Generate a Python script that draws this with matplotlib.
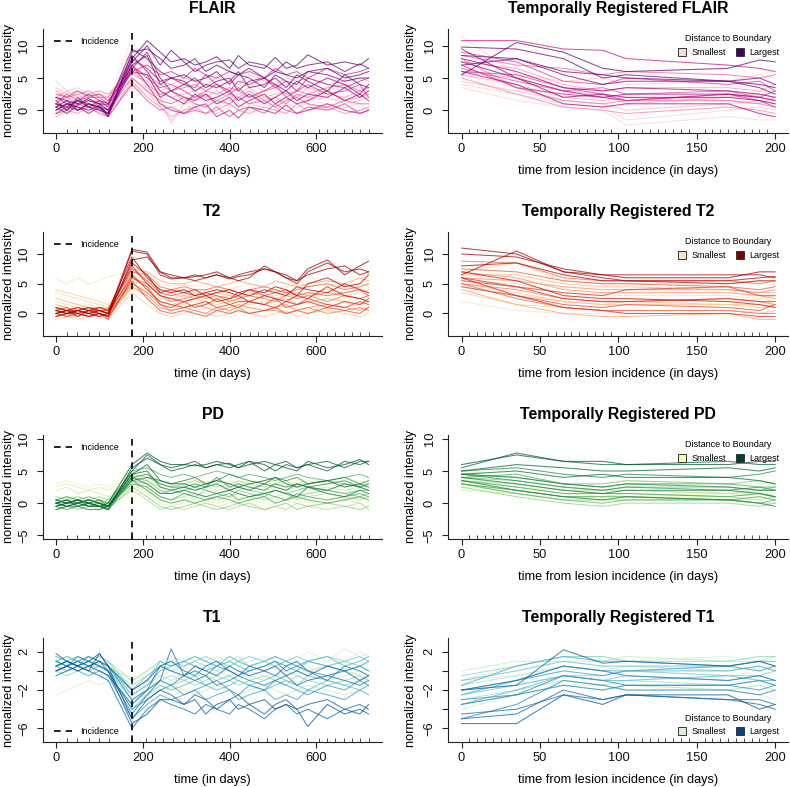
import numpy as np
import matplotlib
matplotlib.use('Agg')
import matplotlib.pyplot as plt
from matplotlib.lines import Line2D

plt.rcParams['font.family'] = ['Liberation Sans', 'DejaVu Sans']

# ---------------- data ----------------
DAYS = [0, 25, 50, 75, 100, 120, 175, 210, 240, 265, 295, 320, 345, 370, 400,
        420, 445, 480, 505, 530, 555, 580, 625, 665, 700, 720]
RUG_DAYS = [0, 25, 49, 75, 100, 122, 176, 207, 228, 247, 269, 295, 320, 346, 366,
            383, 401, 424, 446, 466, 486, 505, 532, 554, 578, 605, 624, 643, 663,
            682, 701, 720]
REG_DAYS = [0, 35, 65, 90, 105, 170, 190, 200]
REG_RUG = list(range(0, 201, 5))
INCIDENCE_DAY = 175

FLAIR_DIST = [1.0, 0.95, 0.9, 0.85, 0.8, 0.72, 0.65, 0.6, 0.52, 0.45, 0.38, 0.3, 0.22, 0.15, 0.08, 0.02,
              0.98, 0.88, 0.76, 0.68, 0.56, 0.42, 0.27, 0.12]
FLAIR = [
    [1.0, 0.5, 1.5, 1.0, 0.5, -0.5, 8.0, 10.8, 9.0, 7.5, 8.0, 7.0, 7.5, 8.3, 6.5, 8.5, 7.0, 6.5, 8.2, 6.5, 7.0, 8.6, 7.0, 7.5, 7.0, 8.0],
    [0.5, -0.5, 0.8, 1.5, 1.0, 0.0, 7.5, 10.0, 7.0, 9.3, 7.5, 6.0, 7.0, 7.5, 7.8, 6.5, 7.5, 7.0, 6.0, 7.5, 6.5, 7.0, 7.5, 6.0, 7.2, 6.5],
    [2.0, 1.5, 1.0, 1.8, 1.0, 0.8, 9.5, 8.0, 6.0, 5.0, 5.5, 4.5, 5.0, 6.0, 4.0, 5.5, 5.0, 3.5, 5.5, 4.5, 4.0, 6.0, 5.5, 4.5, 5.0, 5.0],
    [0.0, 1.0, 0.5, 0.0, 0.8, -0.8, 6.5, 9.0, 5.0, 3.0, 4.0, 5.0, 3.5, 4.5, 5.0, 3.0, 4.5, 5.0, 4.0, 3.0, 4.5, 3.5, 5.0, 4.0, 2.5, 4.0],
    [1.5, 0.0, 2.0, 0.5, 1.5, 1.0, 8.5, 6.0, 3.0, 2.0, 1.0, 2.5, 1.5, 2.0, 3.0, 1.5, 2.5, 1.0, 2.0, 3.0, 1.5, 2.5, 2.0, 3.5, 2.0, 3.0],
    [-0.5, 0.5, 0.0, 1.0, 0.2, -0.5, 7.0, 4.0, 1.0, 0.0, -0.5, 0.5, 1.0, -1.0, 0.0, -1.2, 0.5, 0.0, -0.5, 0.8, -0.5, 0.0, 1.0, 0.0, -0.5, 0.0],
    [2.5, 2.0, 3.0, 2.2, 2.5, 1.5, 6.0, 7.0, 5.5, 6.0, 5.0, 6.5, 5.5, 5.0, 6.0, 5.5, 6.0, 5.0, 6.5, 5.5, 6.0, 5.0, 6.5, 5.5, 6.0, 6.5],
    [1.0, 2.5, 1.5, 2.0, 2.0, 1.0, 7.0, 5.0, 3.5, 4.0, 3.0, 2.0, 3.0, 4.0, 2.5, 3.5, 2.0, 3.0, 4.0, 2.0, 3.0, 4.0, 2.5, 3.0, 4.0, 2.0],
    [0.5, 1.0, 0.0, 0.5, 1.0, 0.0, 5.0, 3.0, 1.5, 1.0, 2.0, 1.0, 0.5, 1.5, 1.0, 2.0, 1.0, 1.5, 0.5, 1.5, 2.0, 1.0, 0.5, 1.5, 1.0, 1.0],
    [3.0, 2.0, 2.5, 3.0, 2.0, 2.0, 6.5, 5.5, 4.0, 3.0, 3.5, 4.0, 3.0, 2.5, 3.5, 3.0, 2.0, 3.0, 3.5, 2.5, 3.0, 2.5, 3.5, 4.0, 3.0, 3.5],
    [-1.0, 0.0, -0.5, 0.5, 0.0, -1.0, 4.5, 2.0, 0.5, -1.0, 0.0, 0.5, -0.5, 0.0, 1.0, 0.0, -0.5, 0.5, 0.0, -0.5, 1.0, 0.0, 0.5, -0.5, 0.0, 0.5],
    [2.0, 3.0, 2.0, 2.5, 3.0, 2.5, 5.5, 4.5, 2.5, 2.0, 2.5, 3.0, 2.0, 3.0, 2.0, 2.5, 3.5, 2.0, 2.5, 3.0, 2.0, 3.5, 2.5, 2.0, 3.0, 2.5],
    [1.0, 1.5, 2.5, 1.5, 1.5, 1.0, 5.0, 3.5, 2.0, -2.0, 1.0, 1.5, 2.0, 1.0, 1.5, 2.0, 1.0, 2.0, 1.5, 1.0, 2.5, 1.5, 2.0, 1.0, 1.5, 2.0],
    [4.5, 3.0, 3.5, 2.5, 3.0, 2.5, 6.0, 5.0, 3.0, 3.5, 4.0, 3.0, 3.5, 4.0, 3.0, 3.5, 4.0, 3.0, 3.5, 4.0, 3.0, 3.5, 3.0, 4.0, 3.5, 3.0],
    [0.0, 0.5, 1.0, 0.0, 0.5, 0.0, 3.5, 2.5, 1.0, 0.5, 1.0, 0.0, 1.5, 0.5, 1.0, 0.0, 1.0, 0.5, 0.0, 1.0, 0.5, 1.5, 1.0, 0.5, 0.0, 0.5],
    [2.0, 1.0, 1.5, 2.0, 2.5, 1.5, 11.0, 6.0, 2.0, 1.5, 2.0, 2.5, 1.5, 2.0, 2.5, 1.5, 2.0, 2.5, 2.0, 1.5, 2.5, 2.0, 1.5, 2.0, 2.5, 2.0],
    [0.5, 1.5, 0.0, 1.0, 0.5, -1.0, 9.0, 9.5, 8.0, 6.5, 7.0, 8.0, 6.0, 7.0, 6.0, 5.5, 6.5, 5.0, 6.0, 5.5, 5.0, 6.0, 6.5, 5.0, 5.5, 6.0],
    [1.0, 0.0, 1.5, 0.5, 0.0, -0.5, 7.0, 8.5, 4.0, 5.0, 4.5, 3.0, 4.0, 3.5, 4.5, 6.0, 3.5, 4.0, 5.0, 3.5, 5.5, 4.5, 3.0, 5.5, 4.0, 3.5],
    [0.0, 1.0, 0.5, -0.5, 0.5, 0.0, 6.0, 5.5, 2.0, 3.0, 2.0, 1.5, 2.5, 1.0, 2.0, 0.5, 1.5, 2.5, 1.0, 2.0, 1.0, 1.5, 3.0, 1.5, 2.5, 1.5],
    [2.0, 1.0, 1.5, 2.5, 1.5, 0.5, 8.0, 6.5, 4.5, 5.0, 4.0, 3.5, 5.5, 4.0, 3.0, 4.5, 4.0, 5.0, 3.5, 4.5, 3.0, 5.0, 4.0, 3.5, 4.5, 5.0],
    [-0.5, 0.0, 1.0, 0.5, -0.5, -1.0, 4.0, 1.5, 0.0, 0.5, -0.5, 0.0, -0.5, 0.5, -1.0, 0.0, 0.5, -0.5, 1.0, 0.0, -0.5, 0.5, 0.0, 1.0, -0.5, 0.0],
    [1.5, 2.0, 1.0, 1.5, 1.0, 1.5, 6.0, 4.0, 2.5, 3.0, 1.5, 2.0, 2.5, 1.5, 2.5, 2.0, 3.0, 1.5, 2.0, 1.0, 2.5, 2.0, 3.0, 1.5, 2.0, 2.5],
    [3.5, 2.5, 3.0, 2.0, 2.5, 2.0, 7.5, 6.5, 4.5, 4.0, 5.0, 4.5, 4.0, 5.0, 4.5, 4.0, 5.5, 4.5, 4.0, 5.0, 4.5, 5.0, 4.0, 4.5, 5.0, 4.5],
    [0.5, 1.0, 0.0, 1.0, 1.5, 0.5, 4.0, 3.0, 0.5, -1.5, 0.0, 1.0, 0.5, -0.5, 0.5, 1.0, 0.0, 1.0, 0.5, -0.5, 0.5, 1.0, 0.0, 0.5, 1.0, 0.0],
]

T2_DIST = [1.0, 0.95, 0.9, 0.85, 0.78, 0.7, 0.62, 0.55, 0.48, 0.4, 0.32, 0.25, 0.18, 0.12, 0.06, 0.02,
           0.98, 0.88, 0.74, 0.66, 0.52, 0.36, 0.22, 0.08]
T2 = [
    [0.5, 0.0, 0.5, 0.0, 0.5, 0.0, 10.8, 10.3, 7.0, 6.0, 6.0, 6.2, 6.5, 7.0, 6.0, 5.5, 6.0, 8.0, 7.0, 6.5, 5.5, 7.5, 9.0, 6.5, 8.0, 8.8],
    [0.0, 0.5, -0.5, 0.5, 0.0, -0.5, 10.5, 10.0, 6.5, 5.8, 6.0, 5.5, 6.0, 6.5, 5.8, 6.2, 6.5, 7.5, 7.0, 6.0, 5.0, 7.0, 8.5, 7.0, 7.5, 7.0],
    [1.0, 0.5, 1.0, 0.5, 1.0, 0.5, 9.5, 6.0, 4.0, 3.5, 4.0, 3.0, 3.5, 4.0, 3.5, 3.0, 4.0, 3.5, 4.5, 4.0, 3.0, 5.0, 6.0, 4.5, 5.0, 6.5],
    [-0.5, 0.0, 0.5, 0.0, -0.5, 0.0, 8.0, 5.0, 3.0, 2.5, 2.0, 2.5, 3.0, 2.0, 2.5, 3.0, 2.0, 3.0, 2.5, 2.0, 3.0, 2.5, 4.5, 3.0, 2.5, 2.0],
    [0.5, 1.0, 0.0, 0.5, 0.5, 0.0, 6.5, 4.0, 2.0, 1.5, 1.0, 1.5, 2.0, 1.0, 1.5, 2.0, 2.0, 1.5, 1.0, 2.0, 1.5, 2.0, 1.0, 2.0, 1.5, 2.5],
    [0.0, -0.5, 0.0, 0.5, 0.0, -0.5, 5.5, 2.5, 0.5, 0.0, 0.5, 0.0, -0.5, 0.5, 0.0, 0.5, 0.0, 0.5, 1.0, 0.0, 0.5, 0.0, 1.0, 0.5, 0.0, 1.0],
    [0.8, 0.5, 1.0, 0.5, 1.0, 0.8, 7.0, 6.5, 4.5, 4.0, 4.5, 4.0, 4.0, 4.5, 4.0, 3.5, 4.0, 4.5, 4.0, 3.5, 4.0, 4.5, 5.0, 4.0, 4.5, 5.0],
    [0.0, 0.5, 0.5, 0.0, 0.5, 0.0, 6.0, 5.0, 3.0, 2.0, 2.5, 3.0, 2.5, 3.0, 2.0, 2.5, 3.0, 2.5, 2.0, 3.0, 2.5, 3.0, 2.0, 3.0, 2.5, 3.0],
    [-0.5, 0.0, -0.5, 0.0, 0.0, -0.5, 4.5, 3.0, 1.0, 0.5, 1.0, 1.5, 1.0, 0.5, 1.0, 1.5, 1.0, 0.5, 1.0, 1.5, 0.5, 1.0, 1.5, 1.0, 0.5, 1.0],
    [1.5, 1.0, 0.5, 1.0, 0.5, 0.5, 7.5, 7.0, 5.5, 5.0, 5.0, 5.5, 5.0, 4.5, 5.0, 5.5, 5.0, 4.5, 5.5, 5.0, 4.5, 5.0, 5.5, 5.0, 6.0, 5.5],
    [0.5, 0.0, 0.5, 0.0, 0.5, 0.0, 5.0, 3.5, 2.0, 1.5, 2.0, 2.5, 2.0, 1.5, 2.0, 2.5, 2.0, 1.5, 2.0, 2.5, 1.5, 2.0, 2.5, 2.0, 1.5, 2.0],
    [-1.0, -0.5, -1.0, -0.5, -0.5, -1.0, 3.5, 1.5, 0.0, -0.5, 0.0, 0.5, 0.0, -0.5, 0.0, 0.5, 0.0, -0.5, 0.0, 0.5, -0.5, 0.0, 0.5, 0.0, -0.5, 0.0],
    [3.5, 3.0, 2.5, 2.0, 1.5, 1.0, 6.5, 5.5, 4.0, 3.5, 4.0, 3.5, 4.0, 3.5, 4.0, 3.5, 3.0, 3.5, 4.0, 3.5, 3.0, 3.5, 4.0, 3.5, 4.0, 3.5],
    [2.0, 1.5, 1.0, 1.5, 1.0, 0.5, 5.0, 4.0, 2.5, 2.0, 2.5, 2.0, 1.5, 2.0, 2.5, 2.0, 1.5, 2.0, 2.5, 2.0, 1.5, 2.0, 2.5, 2.0, 2.5, 2.0],
    [5.8, 5.0, 6.0, 5.0, 5.5, 6.2, 7.0, 6.0, 5.0, 4.5, 5.0, 4.5, 5.0, 4.5, 4.0, 4.5, 5.0, 4.5, 4.0, 4.5, 5.0, 4.5, 5.0, 4.5, 5.0, 4.5],
    [0.0, 0.5, 0.0, 0.5, 0.0, 0.5, 4.0, 3.0, 1.0, 0.5, 1.0, 0.5, 1.0, 0.5, 1.0, 0.5, 1.0, 0.5, 1.0, 0.5, 1.0, 0.5, 1.0, 0.5, 1.0, 0.5],
    [0.0, 0.5, 0.0, -0.5, 0.0, -0.5, 9.0, 9.5, 7.0, 6.5, 6.0, 6.5, 6.0, 6.5, 6.0, 6.5, 7.0, 7.5, 7.0, 6.0, 5.5, 6.5, 7.5, 8.0, 6.5, 7.0],
    [0.5, 0.0, 0.5, 1.0, 0.5, 0.0, 8.5, 6.5, 3.5, 4.0, 3.5, 4.0, 3.0, 3.5, 4.0, 3.5, 3.0, 4.0, 3.5, 3.0, 4.5, 4.0, 3.5, 5.0, 4.0, 3.5],
    [-0.5, 0.0, 0.0, -0.5, 0.0, -1.0, 6.0, 4.5, 1.5, 1.0, 2.0, 1.0, 1.5, 2.5, 1.5, 1.0, 2.0, 1.5, 2.5, 1.0, 1.5, 2.5, 1.5, 1.0, 2.0, 1.5],
    [1.0, 0.5, 0.5, 1.0, 0.5, 0.5, 7.5, 5.5, 3.5, 3.0, 3.5, 3.0, 3.5, 3.0, 2.5, 3.5, 4.0, 3.0, 3.5, 4.0, 3.0, 3.5, 3.0, 3.5, 4.0, 3.0],
    [0.0, -0.5, 0.5, 0.0, -0.5, 0.0, 5.0, 3.5, 1.5, 0.5, 1.0, 0.5, 0.0, 1.0, 0.5, 1.0, 0.0, 0.5, 0.5, 0.0, 0.5, 1.0, 0.0, 0.5, 1.0, 0.5],
    [2.5, 2.0, 1.5, 1.0, 1.0, 0.5, 6.0, 5.0, 3.0, 2.5, 3.0, 2.5, 3.0, 3.5, 3.0, 2.5, 3.5, 3.0, 2.5, 3.0, 3.5, 3.0, 3.5, 3.0, 2.5, 3.0],
    [4.0, 3.5, 3.0, 2.5, 2.0, 1.5, 5.5, 4.5, 3.5, 3.0, 3.0, 3.5, 3.0, 2.5, 3.0, 3.5, 3.0, 2.5, 3.0, 3.5, 2.5, 3.0, 3.5, 3.0, 3.5, 4.0],
    [1.0, 1.5, 1.0, 0.5, 1.0, 0.5, 4.5, 3.5, 2.0, 1.5, 1.5, 1.0, 1.5, 2.0, 1.5, 1.0, 1.5, 2.0, 1.5, 1.0, 1.5, 2.0, 1.5, 1.0, 1.5, 1.0],
]

PD_DIST = [1.0, 0.95, 0.88, 0.8, 0.72, 0.65, 0.58, 0.5, 0.42, 0.35, 0.28, 0.2, 0.13, 0.07, 0.02,
           0.98, 0.85, 0.76, 0.62, 0.46, 0.32, 0.17, 0.05]
PD = [
    [0.0, -0.5, 0.0, -0.5, -0.5, 0.0, 6.0, 7.8, 6.5, 6.0, 6.0, 5.8, 6.0, 6.5, 6.0, 5.5, 6.0, 6.5, 6.0, 5.5, 5.0, 6.5, 5.5, 6.0, 6.8, 6.0],
    [-0.5, 0.0, 0.5, 0.0, -0.5, -0.5, 5.0, 7.5, 6.0, 5.0, 5.5, 6.0, 5.5, 6.0, 6.2, 5.5, 6.5, 6.0, 5.0, 6.0, 5.5, 6.0, 6.5, 5.5, 6.5, 6.5],
    [0.5, 0.0, 0.0, 0.5, 0.0, -0.5, 4.5, 6.0, 3.5, 3.0, 3.0, 2.5, 3.0, 3.5, 3.0, 2.5, 3.0, 3.5, 4.0, 3.0, 2.5, 3.0, 3.5, 2.5, 3.0, 2.5],
    [-1.0, -0.5, -0.5, -1.0, -1.0, -0.5, 4.0, 3.0, 1.5, 1.5, 2.0, 1.5, 1.0, 1.5, 2.0, 1.5, 1.0, 1.5, 2.0, 1.5, 1.0, 2.5, 1.5, 1.0, 2.0, 1.5],
    [0.0, 0.5, 0.0, 0.5, 0.0, -1.0, 4.0, 4.5, 3.0, 2.5, 2.5, 3.0, 2.5, 4.0, 2.5, 3.0, 2.5, 2.0, 3.0, 2.5, 3.0, 2.5, 3.0, 3.5, 2.5, 3.0],
    [-0.5, -1.0, -0.5, 0.0, -0.5, -1.0, 3.5, 2.0, 0.5, 0.0, 0.5, 0.0, 0.5, 1.0, 0.5, 0.0, 0.5, 1.0, 0.0, 0.5, 1.0, 0.5, 0.0, 0.5, 1.0, 0.5],
    [0.5, 1.0, 0.5, 1.0, 0.5, 0.0, 5.0, 5.5, 4.5, 4.0, 4.5, 4.0, 4.5, 5.0, 4.5, 4.0, 4.5, 4.0, 3.5, 4.0, 4.5, 4.0, 3.5, 4.0, 4.5, 4.0],
    [0.0, 0.0, 0.5, 0.0, 0.0, -0.5, 4.0, 3.5, 2.0, 1.5, 2.0, 2.5, 2.0, 1.5, 2.0, 2.5, 2.0, 1.5, 2.0, 1.5, 2.0, 2.5, 2.0, 1.5, 2.0, 2.0],
    [-1.0, -0.5, -1.0, -0.5, -0.5, -1.0, 2.5, 1.0, -0.5, -1.0, -0.5, 0.0, -0.5, -1.0, -0.5, 0.0, -0.5, -1.0, -0.5, 0.0, -1.0, -0.5, 0.0, -0.5, -1.0, -0.5],
    [1.0, 0.5, 1.0, 0.5, 1.0, 0.5, 4.5, 4.0, 3.0, 2.5, 3.0, 3.5, 3.0, 2.5, 3.0, 3.5, 3.0, 2.5, 3.0, 3.5, 2.5, 3.0, 3.5, 3.0, 2.5, 3.0],
    [0.0, 0.5, 0.0, 0.5, 0.0, 0.5, 3.5, 2.5, 1.0, 0.5, 1.0, 1.5, 1.0, 0.5, 1.0, 1.5, 1.0, 0.5, 1.0, 1.5, 0.5, 1.0, 1.5, 1.0, 0.5, 1.0],
    [2.0, 2.5, 1.5, 2.0, 1.5, 1.0, 4.0, 3.5, 2.5, 2.0, 2.5, 2.0, 2.5, 2.0, 2.5, 2.0, 2.5, 2.0, 2.5, 2.0, 2.5, 2.0, 2.5, 2.0, 2.5, 2.0],
    [-0.5, 0.0, -0.5, 0.0, -0.5, 0.0, 3.0, 1.5, 0.0, -0.5, 0.0, 0.5, 0.0, -0.5, 0.0, 0.5, 0.0, -0.5, 0.0, 0.5, 0.0, -0.5, 0.0, 0.5, 0.0, -0.5],
    [3.0, 3.5, 3.0, 2.5, 3.0, 2.5, 5.0, 4.5, 3.5, 3.0, 3.5, 3.0, 3.5, 3.0, 3.5, 3.0, 3.5, 3.0, 3.5, 3.0, 3.5, 3.0, 3.5, 3.0, 3.5, 3.0],
    [1.0, 0.5, 1.0, 0.5, 1.0, 0.5, 1.0, 2.0, 1.0, 0.5, 1.0, 0.5, 1.0, 0.5, 1.0, 0.5, 1.0, 0.5, 1.0, 0.5, 1.0, 0.5, 1.0, 0.5, 1.0, 0.5],
    [0.0, 0.5, -0.5, 0.0, -0.5, -1.0, 5.5, 7.0, 6.0, 5.5, 6.0, 6.5, 5.5, 6.0, 5.5, 6.0, 6.5, 5.0, 6.0, 6.5, 5.5, 6.0, 5.0, 6.5, 6.0, 6.5],
    [-0.5, 0.0, 0.5, -0.5, 0.0, -0.5, 4.5, 5.0, 2.5, 2.0, 2.5, 2.0, 2.5, 3.0, 2.0, 2.5, 2.0, 3.0, 2.5, 2.0, 3.0, 2.5, 2.0, 3.0, 2.5, 2.0],
    [0.5, 0.0, 0.5, 0.0, 0.5, -0.5, 3.5, 4.0, 3.5, 3.0, 3.5, 4.0, 3.0, 3.5, 4.5, 4.0, 3.5, 3.0, 4.0, 3.5, 4.0, 3.0, 3.5, 4.0, 3.0, 3.5],
    [0.0, -0.5, 0.0, 0.5, 0.0, -0.5, 3.0, 2.5, 1.0, 0.5, 1.5, 1.0, 0.5, 1.0, 1.5, 0.5, 1.0, 1.5, 1.0, 0.5, 1.5, 1.0, 0.5, 1.0, 1.5, 1.0],
    [0.5, 1.0, 0.5, 0.0, 0.5, 0.0, 3.5, 3.0, 1.5, 2.0, 1.5, 1.0, 2.0, 1.5, 1.0, 2.0, 1.5, 1.0, 2.0, 1.5, 1.0, 1.5, 2.0, 1.5, 1.0, 1.5],
    [-1.0, -0.5, 0.0, -0.5, -1.0, -0.5, 2.0, 0.5, -1.0, -0.5, -1.0, -0.5, 0.0, -0.5, -1.0, -0.5, 0.0, -1.0, -0.5, -1.0, 0.0, -0.5, -1.0, -0.5, 0.0, -1.0],
    [2.5, 3.0, 2.5, 2.0, 2.5, 2.0, 4.5, 4.0, 3.0, 2.5, 3.0, 2.5, 3.0, 3.5, 3.0, 2.5, 3.0, 3.5, 3.0, 2.5, 3.0, 3.5, 3.0, 2.5, 3.0, 2.5],
    [0.0, 0.5, 1.0, 0.5, 0.0, 0.5, 2.5, 2.0, 0.5, 0.0, 0.5, 1.0, 0.5, 0.0, 0.5, 1.0, 0.5, 0.0, 0.5, 1.0, 0.5, 0.0, 0.5, 1.0, 0.5, 0.0],
]

T1_DIST = [1.0, 0.95, 0.9, 0.85, 0.78, 0.7, 0.62, 0.55, 0.48, 0.4, 0.32, 0.25, 0.18, 0.12, 0.05,
           0.97, 0.88, 0.74, 0.6, 0.45, 0.3, 0.15, 0.03]
T1 = [
    [0.0, 0.5, 0.0, 0.5, 1.0, 0.0, -5.5, -4.5, -3.0, -3.0, -3.5, -3.0, -4.5, -3.5, -3.0, -4.0, -3.5, -3.0, -4.0, -3.5, -4.0, -5.8, -3.5, -4.5, -4.0, -4.5],
    [1.8, 1.0, 0.5, 1.0, 1.8, 0.5, -2.0, -1.0, 0.5, 0.0, -0.5, 0.5, 0.0, -0.5, 0.5, 0.0, -0.5, 0.0, 0.5, -0.5, 0.0, -0.5, 0.5, 0.0, -1.0, -0.5],
    [-0.5, 0.0, 0.5, 0.0, -0.5, -1.0, -6.0, -4.0, -3.0, -3.5, -4.0, -4.5, -3.5, -4.0, -4.5, -3.5, -4.0, -5.0, -4.0, -3.5, -4.5, -4.0, -5.0, -4.0, -3.5, -4.0],
    [0.5, 1.0, 0.5, 1.0, 0.5, 0.0, -4.5, -2.5, -1.0, 2.3, -0.5, -1.0, -0.5, -1.5, -1.0, -0.5, -1.0, -1.5, -1.0, -0.5, -1.5, -1.0, -0.5, -1.0, -1.5, -1.0],
    [1.0, 0.5, 1.0, 1.5, 1.0, 0.5, -3.0, -2.0, -1.0, -1.5, -0.5, 0.0, -0.5, 0.5, 0.0, -0.5, 0.0, 0.5, 1.0, 0.0, 0.5, 0.0, -0.5, 0.0, 0.5, 0.0],
    [0.0, 0.5, 0.0, -0.5, 0.0, -0.5, -5.0, -3.5, -2.5, -3.0, -2.5, -2.0, -3.0, -2.5, -2.0, -3.0, -2.5, -2.0, -3.0, -2.5, -3.0, -2.0, -2.5, -3.0, -2.0, -2.5],
    [1.0, 1.5, 1.0, 0.5, 1.0, 0.5, -2.5, -1.5, 0.0, 0.5, 1.0, 0.5, 0.0, 0.5, 1.0, 0.5, 0.0, 0.5, 1.0, 0.5, 0.0, 1.0, 0.5, 0.0, 0.5, 1.0],
    [0.5, 0.0, 0.5, 0.0, 0.5, 0.0, -4.0, -2.5, -1.5, -2.0, -1.5, -1.0, -1.5, -2.0, -1.5, -1.0, -1.5, -2.0, -1.5, -1.0, -1.5, -2.0, -1.0, -1.5, -2.0, -1.5],
    [1.5, 1.0, 1.5, 1.0, 1.5, 1.0, -2.0, -0.5, 0.5, 1.0, 0.5, 1.0, 1.5, 1.0, 0.5, 1.0, 1.5, 1.0, 0.5, 1.0, 1.5, 1.0, 0.5, 1.0, 1.5, 1.0],
    [0.0, -0.5, 0.0, 0.5, 0.0, -0.5, -3.5, -2.0, -1.0, -0.5, -1.0, -1.5, -1.0, -0.5, -1.0, -1.5, -1.0, -0.5, -1.0, -1.5, -0.5, -1.0, -1.5, -1.0, -0.5, -1.0],
    [1.0, 0.5, 1.0, 0.5, 1.0, 0.5, -1.5, -0.5, 0.5, 0.0, 0.5, 1.0, 0.5, 0.0, 0.5, 1.0, 0.5, 0.0, 0.5, 1.0, 0.5, 0.0, 0.5, 1.0, 0.5, 0.0],
    [0.5, 1.0, 0.5, 1.0, 0.5, 0.0, -2.5, -1.5, -0.5, -1.0, -0.5, 0.0, -0.5, -1.0, -0.5, 0.0, -0.5, -1.0, -0.5, 0.0, -0.5, -1.0, -0.5, 0.0, -0.5, -1.0],
    [-0.5, 0.0, 0.5, 0.0, -0.5, -1.0, -3.0, -2.5, -2.0, -1.5, -2.0, -2.5, -2.0, -1.5, -2.0, -2.5, -2.0, -1.5, -2.0, -2.5, -2.0, -1.5, -2.0, -2.5, -2.0, -1.5],
    [1.0, 1.5, 1.0, 1.5, 1.0, 0.5, -1.0, 0.0, 1.0, 1.5, 1.0, 0.5, 1.0, 1.5, 1.0, 0.5, 1.0, 1.5, 1.0, 0.5, 1.0, 2.0, 1.0, 2.3, 1.5, 1.8],
    [-2.5, -2.0, -1.5, -1.0, -1.5, -1.0, -1.5, -1.0, -1.5, -2.0, -1.5, -1.0, -1.5, -2.0, -1.5, -1.0, -1.5, -2.0, -1.5, -1.0, -1.5, -2.0, -1.5, -1.0, -1.5, -2.0],
    [0.5, 1.0, 0.5, 0.0, 1.8, 0.5, -5.0, -3.0, -2.0, -2.5, -3.5, -2.5, -3.0, -4.0, -3.0, -2.5, -3.5, -4.5, -3.5, -3.0, -4.0, -3.5, -3.0, -4.0, -4.5, -3.5],
    [0.0, 0.5, 1.0, 0.5, 0.0, -0.5, -3.5, -2.0, 0.5, 1.0, 0.0, -0.5, 0.5, 1.0, 0.0, -0.5, 0.5, 0.0, -0.5, 0.5, 1.0, 0.0, -1.0, 0.5, 0.0, -0.5],
    [1.0, 0.5, 1.5, 1.0, 0.5, 0.0, -4.0, -3.0, -2.0, -1.5, -2.5, -2.0, -1.5, -1.0, -2.0, -2.5, -1.5, -2.0, -1.0, -1.5, -2.0, -2.5, -1.5, -2.0, -1.0, -1.5],
    [0.5, 1.0, 0.5, 1.5, 1.0, 0.5, -2.0, -1.0, 1.0, 0.5, 1.0, 1.5, 1.0, 0.5, 1.5, 1.0, 0.5, 1.0, 1.5, 1.0, 0.5, 1.0, 1.5, 0.5, 1.0, 1.5],
    [0.0, 0.5, 0.0, 0.5, 0.5, 0.0, -3.0, -2.0, -1.0, -1.5, -1.0, -0.5, -1.5, -1.0, -0.5, -1.0, -1.5, -1.0, -0.5, -1.0, -1.5, -0.5, -1.0, -1.5, -1.0, -0.5],
    [1.5, 1.0, 1.5, 1.0, 0.5, 1.0, -1.0, 0.0, 1.0, 0.5, 1.0, 1.5, 1.0, 0.5, 1.0, 1.5, 0.5, 1.0, 1.5, 1.0, 0.5, 1.0, 1.5, 1.0, 0.5, 1.0],
    [0.5, 0.0, 0.5, 1.0, 0.5, 0.0, -2.0, -1.5, -0.5, 0.0, -0.5, -1.0, -0.5, 0.0, -0.5, -1.0, 0.0, -0.5, -1.0, -0.5, 0.0, -0.5, -1.0, -0.5, 0.0, -0.5],
    [1.0, 1.5, 1.0, 0.5, 1.0, 0.5, -1.0, -0.5, 0.5, 1.0, 1.5, 1.0, 0.5, 1.0, 1.5, 1.0, 0.5, 1.0, 1.5, 1.0, 0.5, 1.0, 1.5, 1.0, 2.0, 1.5],
]

REG_DIST = [1.0, 0.95, 0.9, 0.85, 0.8, 0.75, 0.7, 0.65, 0.6, 0.55, 0.48, 0.4, 0.33, 0.26, 0.2, 0.14, 0.08, 0.03,
            0.92, 0.78, 0.62, 0.45, 0.3, 0.1]
REG_FLAIR = [
    [5.5, 10.5, 9.0, 6.5, 6.0, 6.5, 7.8, 7.5],
    [9.8, 9.5, 8.0, 5.0, 5.5, 4.5, 4.0, 3.5],
    [8.5, 8.0, 5.5, 4.0, 4.5, 4.5, 3.5, 2.5],
    [7.5, 5.0, 2.0, 2.5, 2.0, 2.0, 1.5, 1.0],
    [8.0, 6.0, 3.5, 3.0, 3.5, 3.0, 2.5, 2.0],
    [6.0, 4.0, 1.0, 0.5, 1.0, 1.0, -0.5, -1.0],
    [10.8, 10.8, 9.5, 9.3, 8.0, 7.0, 6.5, 6.0],
    [7.0, 3.5, 2.5, 2.0, 1.5, 2.5, 1.5, 0.5],
    [9.0, 7.5, 4.5, 4.0, 5.0, 4.0, 4.5, 3.0],
    [6.5, 4.5, 3.0, 3.5, 2.5, 3.0, 2.0, 1.5],
    [8.5, 7.0, 6.5, 5.5, 6.0, 5.5, 5.0, 5.5],
    [5.0, 2.5, 0.5, 0.0, -0.5, 0.5, 0.0, -0.5],
    [7.5, 6.5, 4.0, 3.0, 3.5, 3.5, 3.0, 4.0],
    [6.0, 5.0, 3.0, 2.5, 1.0, 2.0, 2.5, 2.0],
    [4.5, 3.0, 1.5, 1.0, 0.0, 1.0, 1.5, 1.0],
    [11.5, 5.5, 4.5, 5.0, 4.0, 4.5, 5.5, 5.0],
    [3.5, 1.5, 0.5, 0.0, -2.3, -1.0, -1.5, -1.5],
    [5.5, 3.5, 2.5, 2.0, 1.5, 2.0, 3.0, 2.5],
    [7.0, 8.0, 6.0, 5.5, 5.0, 4.5, 5.0, 4.0],
    [9.5, 5.0, 3.0, 2.0, 2.5, 2.5, 2.0, 1.5],
    [6.0, 5.5, 3.5, 2.5, 1.5, 2.5, 2.0, 3.0],
    [8.0, 3.5, 1.5, 1.0, 1.5, 1.5, 1.0, 0.5],
    [5.5, 4.0, 2.0, 1.5, 2.0, 1.5, 1.0, 2.0],
    [4.0, 2.5, 1.0, 0.5, -1.5, 0.0, 0.5, 0.0],
]
REG_T2 = [
    [11.0, 10.0, 7.0, 6.5, 6.0, 6.0, 7.0, 7.0],
    [10.0, 9.5, 7.5, 6.5, 6.5, 6.5, 6.5, 6.0],
    [6.5, 10.5, 7.0, 6.0, 5.5, 5.5, 6.0, 6.2],
    [7.0, 5.5, 3.0, 2.5, 2.5, 2.0, 1.5, 1.0],
    [6.0, 3.0, 1.0, 0.5, 0.0, 0.0, -0.5, -0.5],
    [5.5, 4.5, 3.5, 3.0, 4.0, 4.5, 3.0, 3.0],
    [4.5, 3.0, 1.5, 1.0, 1.5, 1.0, 0.5, 1.5],
    [7.5, 7.0, 5.5, 5.0, 5.0, 4.5, 4.0, 4.5],
    [8.8, 8.5, 6.0, 5.5, 5.5, 5.5, 5.0, 5.5],
    [5.0, 4.0, 2.5, 2.0, 2.0, 2.5, 2.0, 1.5],
    [6.0, 5.5, 4.5, 4.0, 4.0, 4.0, 3.5, 4.0],
    [4.0, 1.5, 0.0, -0.5, -0.5, 0.0, -1.0, -1.0],
    [6.5, 6.5, 5.0, 4.5, 4.5, 4.0, 3.5, 3.5],
    [5.0, 3.5, 2.0, 1.5, 1.5, 1.5, 1.0, 1.5],
    [3.5, 1.5, 1.0, 0.5, 0.5, 0.5, 0.0, 0.5],
    [7.0, 8.5, 5.5, 5.0, 5.0, 5.0, 5.5, 5.0],
    [4.5, 3.0, 2.0, 2.0, 2.5, 2.0, 2.5, 2.0],
    [2.0, 0.5, 0.0, 0.0, 0.5, 0.5, 0.0, 0.5],
    [8.0, 8.5, 6.5, 5.5, 5.5, 5.0, 5.5, 5.5],
    [6.0, 4.5, 2.5, 2.0, 2.0, 2.5, 2.0, 2.0],
    [5.0, 2.5, 1.0, 0.5, 0.5, 0.5, 0.0, 0.0],
    [7.0, 6.0, 4.0, 3.5, 3.5, 3.5, 3.0, 2.5],
    [4.5, 3.0, 2.0, 1.5, 2.0, 1.5, 1.5, 1.0],
    [5.5, 5.0, 3.5, 3.0, 3.0, 3.0, 2.5, 3.0],
]
REG_PD = [
    [6.0, 7.5, 6.5, 6.5, 6.0, 6.0, 6.5, 6.5],
    [5.5, 7.8, 6.5, 6.0, 6.0, 6.5, 6.0, 6.0],
    [4.5, 5.0, 4.0, 4.5, 4.0, 4.0, 3.5, 3.0],
    [4.0, 3.0, 2.0, 1.5, 2.0, 2.0, 1.5, 1.0],
    [3.5, 2.0, 1.0, 0.5, 1.0, 0.5, 0.0, -0.5],
    [5.0, 5.5, 4.5, 4.0, 4.5, 4.0, 4.5, 5.0],
    [4.5, 3.5, 2.5, 2.0, 2.5, 2.0, 2.5, 2.0],
    [3.5, 2.5, 1.5, 1.5, 1.5, 1.0, 1.5, 1.0],
    [4.0, 4.5, 3.0, 2.5, 3.0, 3.0, 2.5, 2.5],
    [3.0, 1.5, 0.5, 0.0, 0.5, 0.5, 0.0, 0.5],
    [4.0, 3.5, 2.5, 2.0, 2.5, 2.5, 2.0, 2.5],
    [2.5, 1.0, 0.0, -0.5, 0.0, 0.0, -0.5, 0.0],
    [3.5, 3.0, 2.0, 2.0, 2.0, 1.5, 2.0, 2.0],
    [3.0, 2.0, 1.0, 1.0, 1.5, 1.0, 0.5, 1.0],
    [2.0, 1.5, 0.5, 0.5, 0.5, 0.5, 0.5, 1.0],
    [4.0, 2.5, 1.5, 1.0, 1.0, 1.5, 1.0, 1.5],
    [5.0, 4.0, 3.0, 3.0, 3.5, 3.0, 3.0, 3.5],
    [2.5, 2.0, 1.0, 0.5, 1.0, 1.0, 1.5, 1.0],
    [5.0, 6.0, 5.5, 5.0, 5.0, 5.5, 5.0, 5.5],
    [4.5, 4.0, 3.0, 2.5, 3.0, 2.5, 2.0, 2.0],
    [3.0, 2.0, 1.0, 1.0, 1.0, 0.5, 1.0, 0.5],
    [4.5, 4.0, 3.0, 3.0, 3.5, 3.0, 3.5, 3.0],
    [3.0, 1.5, 0.5, 0.5, 0.5, 0.5, 0.0, 0.0],
    [3.5, 2.5, 2.0, 1.5, 2.0, 1.5, 1.5, 2.0],
]
REG_T1 = [
    [-5.5, -5.5, -2.5, -3.5, -2.5, -2.5, -4.0, -3.5],
    [-2.0, -1.5, 2.2, 0.8, 1.0, 0.5, 1.0, 0.5],
    [-4.5, -4.0, -2.5, -3.0, -2.5, -3.0, -3.0, -3.5],
    [-2.0, -1.0, 0.5, 0.0, -0.5, -1.0, -0.5, -1.0],
    [-5.0, -3.5, -1.0, -1.5, -2.0, -2.0, -2.5, -2.0],
    [-3.0, -2.5, -1.5, -2.0, -1.5, -1.5, -2.0, -1.5],
    [-2.0, -1.0, 0.0, -0.5, 0.0, 0.5, 0.0, 0.5],
    [-1.5, 0.5, 1.5, 1.0, 1.0, 0.5, 1.0, 1.0],
    [-3.5, -2.0, -0.5, -1.0, -1.0, -0.5, -1.0, -1.0],
    [-1.0, 0.0, 1.0, 0.5, 0.5, 0.5, 1.0, 0.5],
    [-2.5, -1.5, -0.5, -1.0, -0.5, -1.0, -0.5, -1.0],
    [-0.5, 0.5, 1.5, 1.5, 1.0, 1.0, 1.5, 1.5],
    [-3.0, -2.0, -1.0, -1.5, -1.0, -1.5, -1.0, -1.5],
    [-1.5, -0.5, 0.5, 0.0, 0.5, 0.0, 0.5, 0.0],
    [0.0, 1.0, 1.0, 1.0, 1.5, 1.0, 1.0, 1.5],
    [-4.0, -2.5, -1.5, -1.5, -2.0, -2.0, -2.5, -3.0],
    [-2.5, -1.0, 0.0, 0.5, 0.0, 0.5, 0.0, 0.5],
    [-1.0, -0.5, 0.5, 0.0, 0.0, -0.5, 0.0, -0.5],
    [-5.0, -4.5, -2.0, -3.0, -2.5, -3.0, -3.5, -4.0],
    [-3.5, -2.5, -0.5, -1.0, -1.5, -1.5, -1.0, -1.5],
    [-2.5, -1.0, 0.5, 0.0, 0.0, 0.0, 0.5, 0.0],
    [-2.0, -1.5, -0.5, -0.5, 0.0, -0.5, -0.5, 0.0],
    [-3.5, -2.5, -1.5, -2.0, -1.5, -2.0, -1.5, -2.0],
    [-1.0, 0.5, 1.5, 1.5, 1.0, 1.5, 1.0, 1.5],
]

MODALITIES = ['FLAIR', 'T2', 'PD', 'T1']
CMAPS = ['RdPu', 'OrRd', 'YlGn', 'GnBu']
YLIMS = [(-3.45, 12.6), (-3.7, 13.7), (-5.5, 10.6), (-7.4, 3.4)]
YTICKS = [[0, 5, 10], [0, 5, 10], [-5, 0, 5, 10], [-6, -4, -2, 0, 2]]
YTICKLABELS = [['0', '5', '10'], ['0', '5', '10'], ['\u22125', '0', '5', '10'],
               ['\u22126', '', '\u22122', '', '2']]
RAW = [(FLAIR, FLAIR_DIST), (T2, T2_DIST), (PD, PD_DIST), (T1, T1_DIST)]
REG = [REG_FLAIR, REG_T2, REG_PD, REG_T1]

# ---------------- figure ----------------
W, H = 790, 787
fig = plt.figure(figsize=(W / 100, H / 100), dpi=100)

row_tops = [29, 232, 435, 638.3]
row_h = 103.5
left_x, left_w = 43, 339
right_x, right_w = 448.3, 339.7

TICK_FS = 9.3
LAB_FS = 9.2
TITLE_FS = 11.4
LEG_FS = 6.5


def line_color(cmap, d):
    return plt.get_cmap(cmap)(0.12 + 0.83 * d)


def legend_color(cmap, d):
    return plt.get_cmap(cmap)(0.15 + 0.85 * d)


def style_axes(ax, ylim, yticks, yticklabels):
    ax.set_ylim(*ylim)
    ax.spines['top'].set_visible(False)
    ax.spines['right'].set_visible(False)
    for s in ('left', 'bottom'):
        ax.spines[s].set_linewidth(0.8)
        ax.spines[s].set_color('#222222')
    ax.set_yticks(yticks)
    ax.set_yticklabels(yticklabels, rotation=90, va='center')
    ax.tick_params(axis='both', which='major', direction='out', length=4.5,
                   width=0.8, labelsize=TICK_FS, color='#222222', labelcolor='#111111')
    ax.tick_params(axis='x', which='major', pad=3)
    ax.tick_params(axis='y', which='major', pad=4.5)
    ax.tick_params(axis='x', which='minor', direction='in', length=3.2,
                   width=0.6, color='#333333')


for r, mod in enumerate(MODALITIES):
    cmap = CMAPS[r]
    top = row_tops[r]
    bottom_frac = 1 - (top + row_h) / H
    h_frac = row_h / H

    # ----- raw -----
    ax = fig.add_axes([left_x / W, bottom_frac, left_w / W, h_frac])
    data, dist = RAW[r]
    order = np.argsort(dist)
    for i in order:
        ax.plot(DAYS, data[i], color=line_color(cmap, dist[i]), lw=0.75, alpha=0.72)
    ax.axvline(INCIDENCE_DAY, color='black', lw=1.2, ls=(0, (4, 3)))
    ax.set_xlim(-30, 751)
    ax.set_xticks([0, 200, 400, 600])
    ax.set_xticks(RUG_DAYS, minor=True)
    style_axes(ax, YLIMS[r], YTICKS[r], YTICKLABELS[r])
    ax.set_title(mod, fontsize=TITLE_FS, fontweight='bold', pad=11.5)
    ax.set_xlabel('time (in days)', fontsize=LAB_FS)
    ax.set_ylabel('normalized intensity', fontsize=LAB_FS)
    ax.xaxis.set_label_coords(0.5, -0.31)
    ax.yaxis.set_label_coords(-0.083, 0.5)
    inc = Line2D([], [], color='black', lw=1.2, ls=(0, (4, 3)))
    if mod == 'T1':
        ax.legend([inc], ['Incidence'], loc='lower left', frameon=False,
                  fontsize=LEG_FS, handlelength=2.0, handletextpad=0.9,
                  borderaxespad=0.2, bbox_to_anchor=(0.015, 0.0))
    else:
        ax.legend([inc], ['Incidence'], loc='upper left', frameon=False,
                  fontsize=LEG_FS, handlelength=2.0, handletextpad=0.9,
                  borderaxespad=0.2, bbox_to_anchor=(0.015, 0.972))

    # ----- registered -----
    ax2 = fig.add_axes([right_x / W, bottom_frac, right_w / W, h_frac])
    rdata = REG[r]
    order = np.argsort(REG_DIST)
    for i in order:
        ax2.plot(REG_DAYS, rdata[i], color=line_color(cmap, REG_DIST[i]), lw=0.75, alpha=0.72)
    ax2.set_xlim(-8.5, 208.2)
    ax2.set_xticks([0, 50, 100, 150, 200])
    ax2.set_xticks(REG_RUG, minor=True)
    style_axes(ax2, YLIMS[r], YTICKS[r], YTICKLABELS[r])
    ax2.set_title('Temporally Registered ' + mod, fontsize=TITLE_FS, fontweight='bold', pad=11.5)
    ax2.set_xlabel('time from lesion incidence (in days)', fontsize=LAB_FS)
    ax2.set_ylabel('normalized intensity', fontsize=LAB_FS)
    ax2.xaxis.set_label_coords(0.5, -0.31)
    ax2.yaxis.set_label_coords(-0.092, 0.5)
    hs = [Line2D([], [], marker='s', ls='none', markersize=5.5,
                 markerfacecolor=legend_color(cmap, 0.0), markeredgecolor='#333333',
                 markeredgewidth=0.7),
          Line2D([], [], marker='s', ls='none', markersize=5.5,
                 markerfacecolor=legend_color(cmap, 1.0), markeredgecolor='#333333',
                 markeredgewidth=0.7)]
    loc = 'lower right' if mod == 'T1' else 'upper right'
    anchor = (0.99, 0.0) if mod == 'T1' else (0.99, 1.0)
    ax2.legend(hs, ['Smallest', 'Largest'], title='Distance to Boundary', ncol=2,
               loc=loc, bbox_to_anchor=anchor, frameon=False, fontsize=LEG_FS,
               title_fontsize=LEG_FS, handletextpad=0.5, columnspacing=1.1,
               handlelength=1.0, borderaxespad=0.2)

fig.savefig('out.png', dpi=100)
